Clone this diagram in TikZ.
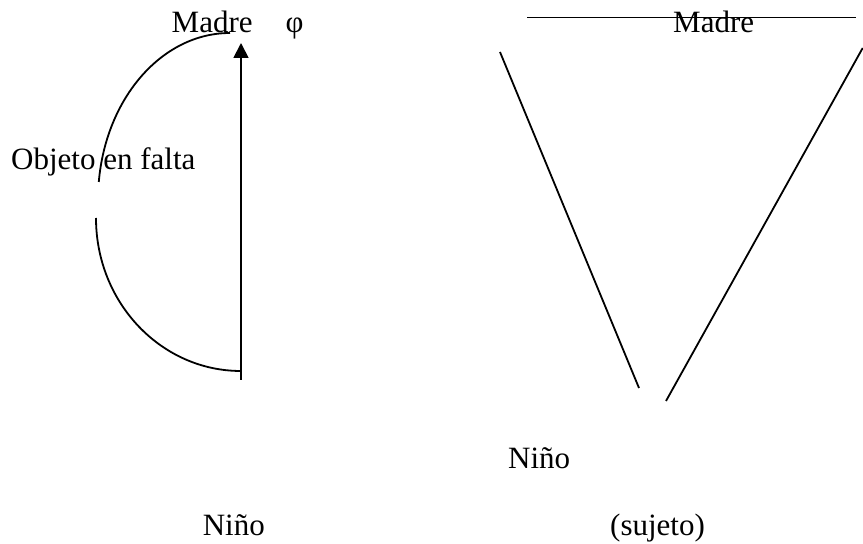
\documentclass[tikz,border=0pt]{standalone}
\usepackage{fontspec}
\setmainfont{Liberation Serif}
\usetikzlibrary{arrows.meta}
\tikzset{
  lbl/.style={inner sep=0pt, anchor=base west, font=\fontsize{31}{37}\selectfont},
  trazo/.style={line width=1.8pt},
}
\begin{document}
\begin{tikzpicture}
% scheme redrawn from the scanned page
\def\unitsz{1pt}
\begin{scope}[x=\unitsz, y=\unitsz]
  \useasboundingbox (0,0) rectangle (863,544);
  % Left scheme: labels
  \node[lbl] (madreL) at (171.5,511) {Madre};
  \node[lbl, anchor=base] (phi) at (294.5,511) {φ};
  \node[lbl] (objeto) at (11,374) {Objeto en falta};
  \node[lbl] (ninoL) at (202.6,9) {Niño};
  % Left scheme: arrow and the two arcs
  \coordinate (baseL) at (241,164);
  \coordinate (tipL) at (241,501);
  \draw[trazo, -{Triangle[length=15pt, width=15pt]}] (baseL) -- (tipL);
  \draw[trazo] (230,511) arc[start angle=90, end angle=173.8, x radius=132pt, y radius=167pt];
  \draw[trazo] (96,326) arc[start angle=180, end angle=270, x radius=145pt, y radius=153pt];
  % Right scheme: labels
  \node[lbl] (madreR) at (673,511) {Madre};
  \node[lbl] (ninoR) at (508,75) {Niño};
  \node[lbl] (sujeto) at (610,9) {(sujeto)};
  % Right scheme: bar and the open V
  \coordinate (barW) at (527,526.5);
  \coordinate (barE) at (856,526.5);
  \draw[trazo] (barW) -- (barE);
  \coordinate (vLtop) at (500,492);
  \coordinate (vLbot) at (639,156);
  \draw[trazo] (vLtop) -- (vLbot);
  \coordinate (vRbot) at (666,143);
  \coordinate (vRtop) at (862.7,496);
  \draw[trazo] (vRbot) -- (vRtop);
\end{scope}
\end{tikzpicture}
\end{document}
